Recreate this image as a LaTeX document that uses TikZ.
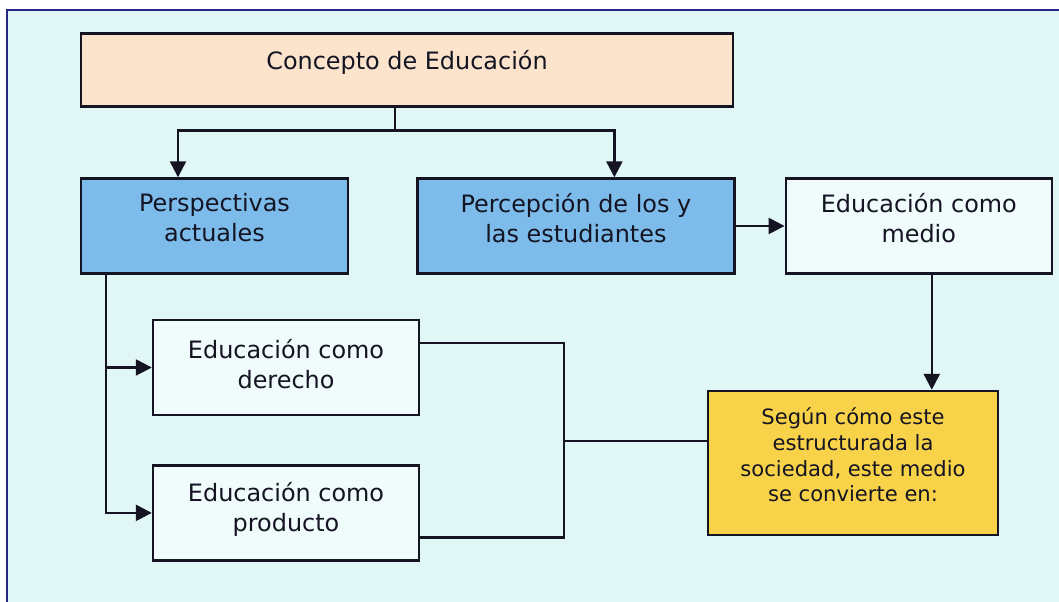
\documentclass[tikz,border=0pt]{standalone}
\usepackage{fontspec}
\setmainfont{DejaVu Sans}
\usepackage{tikz}
\usetikzlibrary{positioning, calc, arrows.meta}
\newlength{\unitpx}
\setlength{\unitpx}{0.025cm}
\definecolor{backcyan}{RGB}{224,247,245}
\definecolor{frameblue}{RGB}{40,40,130}
\definecolor{peach}{RGB}{252,228,204}
\definecolor{skyblue}{RGB}{125,188,234}
\definecolor{paleblue}{RGB}{240,251,251}
\definecolor{gold}{RGB}{248,210,72}
\definecolor{ink}{RGB}{20,20,35}
\tikzstyle{Box} = [
	draw=ink,
	line width=1.7pt,
	rectangle,
	minimum height=95\unitpx
	]
\tikzstyle{Txt} = [
	align=center,
	inner sep=0pt,
	text=ink,
	font=\fontsize{17}{21.3}\selectfont
	]
\tikzstyle{Line} = [draw=ink, line width=1.7pt]
\tikzstyle{Flow} = [
	Line,
	-{Triangle[length=0.4cm, width=0.4cm]}
	]
\begin{document}
\begin{tikzpicture}[x=0.025cm, y=-0.025cm]
	%frame:
		\useasboundingbox (0,0) rectangle (1059,602);
		\fill[backcyan] (7,10) rectangle (1059,602);
		\draw[frameblue, line width=1.8pt] (7,602) -- (7,10) -- (1059,10);
	%nodes:
		\node [Box, fill=peach, minimum width=652\unitpx, minimum height=73\unitpx] (concepto) at (407,70) {};
		\node [Box, fill=skyblue, minimum width=267\unitpx] (persp) at (214.5,226) {};
		\node [Box, fill=skyblue, minimum width=317\unitpx, right=67\unitpx of persp] (percep) {};
		\node [Box, fill=paleblue, minimum width=266\unitpx, right=49\unitpx of percep] (medio) {};
		\node [Box, fill=paleblue, minimum width=266\unitpx] (derecho) at (286,367.5) {};
		\node [Box, fill=paleblue, minimum width=266\unitpx, below=48\unitpx of derecho] (producto) {};
		\node [Box, fill=gold, minimum width=290\unitpx, minimum height=144\unitpx] (segun) at (853,463) {};
	%texts:
		\node [Txt] (conceptotxt) at ([yshift=8\unitpx]concepto.center) {Concepto de Educación};
		\node [Txt] (persptxt) at ([yshift=8\unitpx]persp.center) {Perspectivas\\actuales};
		\node [Txt] (perceptxt) at ([yshift=8\unitpx]percep.center) {Percepción de los y\\las estudiantes};
		\node [Txt] (mediotxt) at ([yshift=8\unitpx]medio.center) {Educación como\\medio};
		\node [Txt] (derechotxt) at ([yshift=3\unitpx]derecho.center) {Educación como\\derecho};
		\node [Txt] (productotxt) at ([yshift=3\unitpx]producto.center) {Educación como\\producto};
		\node [Txt, font=\fontsize{15}{18.2}\selectfont] (seguntxt) at ([yshift=8\unitpx]segun.center) {Según cómo este\\estructurada la\\sociedad, este medio\\se convierte en:};
	%edges:
		\coordinate (split) at ($(concepto.south)+(-12,23)$);
		\coordinate (spine) at ($(persp.south)+(-108.5,0)$);
		\coordinate (drop) at ($(medio.south)+(13,0)$);
		\coordinate (join) at (564,441);
		\draw[Line] (concepto.south -| split) -- (split);
		\draw[Flow] (split) -| ($(persp.north)+(-36.5,0)$);
		\draw[Flow] (split) -| ($(percep.north)+(38.5,0)$);
		\draw[Flow] (percep) -- (medio);
		\draw[Flow] (drop) -- (drop |- segun.north);
		\draw[Flow] (spine) |- (derecho.west);
		\draw[Flow] (spine) |- (producto.west);
		\draw[Line] ($(derecho.east)+(0,-24.5)$) -| (join);
		\draw[Line] ($(producto.east)+(0,24.5)$) -| (join);
		\draw[Line] (join) -- (join -| segun.west);
\end{tikzpicture}
\end{document}
